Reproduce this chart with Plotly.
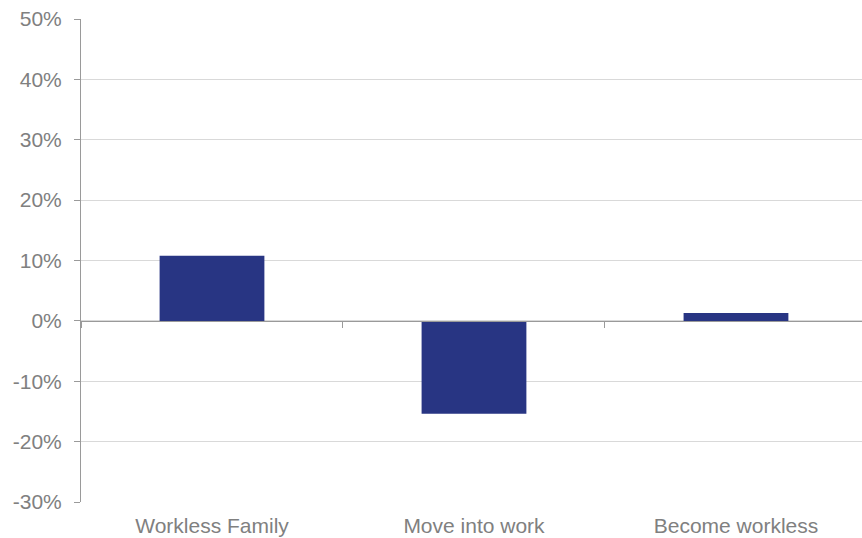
import plotly.graph_objects as go

categories = ["Workless Family", "Move into work", "Become workless"]
values = [0.108, -0.154, 0.013]
y_ticks = [-0.3, -0.2, -0.1, 0, 0.1, 0.2, 0.3, 0.4, 0.5]
y_labels = ["-30%", "-20%", "-10%", "0%", "10%", "20%", "30%", "40%", "50%"]

y_min, y_max = -0.3, 0.5
x_range = [-0.5, 2.481]

fig = go.Figure()
fig.add_trace(go.Bar(x=categories, y=values, marker_color="#283583", width=0.4,
                     marker_line_width=0))
# invisible trace on second x axis to render zero-line ticks at boundaries
fig.add_trace(go.Scatter(x=categories, y=[0, 0, 0], xaxis="x2", mode="markers",
                         marker_opacity=0, hoverinfo="skip", showlegend=False))

font = dict(family="Liberation Sans, Arial, sans-serif", size=21, color="#808080")
fig.update_layout(
    width=862, height=538,
    margin=dict(l=81, r=0, t=19, b=36, autoexpand=False),
    paper_bgcolor="white", plot_bgcolor="white",
    showlegend=False,
    font=font,
    xaxis=dict(showgrid=False, showline=False, ticks="", zeroline=False,
               range=x_range, automargin=False, tickfont=font,
               ticklabelstandoff=9),
    xaxis2=dict(overlaying="x", anchor="free", range=x_range,
                position=(0 - y_min) / (y_max - y_min), automargin=False,
                showline=True, linecolor="#9a9a9a", linewidth=1,
                ticks="outside", tickson="boundaries", ticklen=6, tickcolor="#9a9a9a",
                showticklabels=False, showgrid=False, zeroline=False),
    yaxis=dict(range=[y_min, y_max], tickvals=y_ticks, ticktext=y_labels,
               showgrid=True, gridcolor="#d9d9d9", gridwidth=1, automargin=False,
               showline=True, linecolor="#9a9a9a", linewidth=1,
               ticks="outside", ticklen=6, tickcolor="#9a9a9a",
               zeroline=False, tickfont=font, ticklabelstandoff=8),
)
fig.write_html("out.html", config={"displayModeBar": False},
               post_script="document.body.style.margin='0';")
